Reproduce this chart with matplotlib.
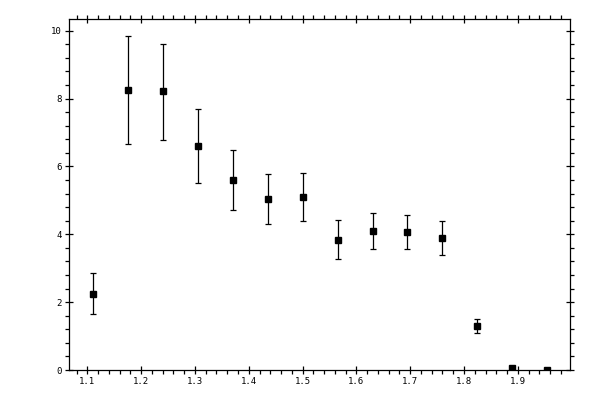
import matplotlib
matplotlib.use("Agg")
import matplotlib.pyplot as plt
from matplotlib.ticker import MultipleLocator, FormatStrFormatter

plt.rcParams['font.family'] = ['DejaVu Sans Mono']

x = [1.11, 1.175, 1.24, 1.305, 1.37, 1.435, 1.50, 1.565, 1.63, 1.695, 1.76, 1.825, 1.89, 1.955]
y = [2.25, 8.24, 8.21, 6.59, 5.61, 5.05, 5.11, 3.84, 4.11, 4.08, 3.90, 1.30, 0.06, 0.0]
y_hi = [2.87, 9.84, 9.60, 7.68, 6.49, 5.78, 5.82, 4.43, 4.64, 4.58, 4.40, 1.49, 0.06, 0.0]
y_lo = [1.65, 6.65, 6.79, 5.52, 4.73, 4.31, 4.40, 3.28, 3.57, 3.57, 3.40, 1.09, 0.06, 0.0]

err_lo = [a - b for a, b in zip(y, y_lo)]
err_hi = [b - a for a, b in zip(y, y_hi)]

fig = plt.figure(figsize=(6, 4), dpi=100)
ax = fig.add_axes([0.1155, 0.075, 0.8345, 0.877])

ax.errorbar(x, y, yerr=[err_lo, err_hi], fmt='s', color='black', ms=5.0,
            mfc='black', mec='black', ecolor='black', elinewidth=0.9,
            capsize=2.0, capthick=0.9)

ax.set_xlim(1.0665, 1.997)
ax.set_ylim(0, 10.34)

ax.xaxis.set_major_locator(MultipleLocator(0.1))
ax.xaxis.set_minor_locator(MultipleLocator(0.02))
ax.yaxis.set_major_locator(MultipleLocator(2))
ax.yaxis.set_minor_locator(MultipleLocator(0.4))
ax.xaxis.set_major_formatter(FormatStrFormatter('%.1f'))
ax.yaxis.set_major_formatter(FormatStrFormatter('%d'))

for s in ax.spines.values():
    s.set_linewidth(0.9)

ax.tick_params(which='major', direction='inout', length=5.8, width=0.9,
               top=True, right=True, labelsize=6.5)
ax.tick_params(axis='x', which='major', pad=2.5)
ax.tick_params(axis='y', which='major', pad=2.8)
ax.tick_params(which='minor', direction='out', length=2.9, width=0.9,
               top=True, right=True)

fig.savefig('out.png', dpi=100)
